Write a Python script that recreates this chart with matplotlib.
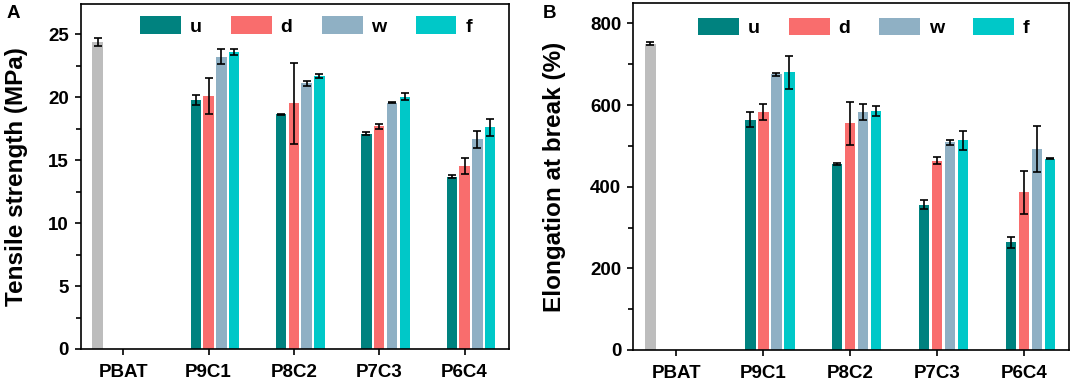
"""
Tensile strength and elongation at break for PBAT blends
"""

import numpy as np
import matplotlib.pyplot as plt
from matplotlib.ticker import MultipleLocator

plt.rcParams['font.family'] = ['Liberation Sans', 'DejaVu Sans']
plt.rcParams['font.weight'] = 'bold'

# categories and series
samples = ['PBAT', 'P9C1', 'P8C2', 'P7C3', 'P6C4']
series = ['u', 'd', 'w', 'f']
colors = ['#00827f', '#f96d6d', '#8fb0c4', '#00c8c8']
pbat_color = '#bdbdbd'

# tensile strength (MPa) for P9C1..P6C4
ts_pbat = 24.4
ts_pbat_err = 0.3
ts_u = [19.75, 18.65, 17.1, 13.7]
ts_d = [20.1, 19.5, 17.7, 14.55]
ts_w = [23.2, 21.1, 19.55, 16.65]
ts_f = [23.6, 21.7, 20.05, 17.6]
ts_u_err = [0.4, 0.05, 0.1, 0.1]
ts_d_err = [1.4, 3.2, 0.2, 0.65]
ts_w_err = [0.6, 0.2, 0.05, 0.65]
ts_f_err = [0.25, 0.15, 0.3, 0.7]

# elongation at break (%)
eb_pbat = 750
eb_pbat_err = 4
eb_u = [564, 455, 356, 264]
eb_d = [583, 555, 464, 386]
eb_w = [675, 583, 509, 493]
eb_f = [680, 585, 514, 469]
eb_u_err = [18, 3, 11, 13]
eb_d_err = [20, 52, 8, 53]
eb_w_err = [3, 20, 6, 56]
eb_f_err = [40, 13, 23, 2]


def draw_panel(ax, pbat, pbat_err, vals, errs, ylabel, ylim, major, minor,
               label_x, leg_x, leg_y):
    slot = 0.15
    width = 0.122
    x = np.arange(len(samples))
    err_kw = dict(ecolor='black', elinewidth=1.2, capsize=2.8, capthick=1.2)

    ax.bar(x[0] - 2 * slot, pbat, width, yerr=pbat_err, color=pbat_color,
           error_kw=err_kw, zorder=2)
    for i, (name, v, e) in enumerate(zip(series, vals, errs)):
        ax.bar(x[1:] + (i - 1) * slot, v, width, yerr=e, color=colors[i],
               label=name, error_kw=err_kw, zorder=2)

    ax.set_xlim(-0.5, 4.52)
    ax.set_ylim(*ylim)
    ax.set_xticks(x)
    ax.set_xticklabels(samples, fontsize=13.5, fontweight='bold')
    ax.yaxis.set_major_locator(MultipleLocator(major))
    ax.yaxis.set_minor_locator(MultipleLocator(minor))
    ax.tick_params(axis='both', direction='out', length=4.5, width=1.2,
                   labelsize=13.5, pad=4)
    ax.tick_params(axis='x', pad=6)
    ax.tick_params(axis='y', which='minor', direction='out', length=3.5, width=1.2)
    for lab in ax.get_yticklabels():
        lab.set_fontweight('bold')
    for sp in ax.spines.values():
        sp.set_linewidth(1.2)
    ax.set_ylabel(ylabel, fontsize=17.5, fontweight='bold')
    ax.yaxis.set_label_coords(label_x, 0.5)

    ax.legend(loc='upper left', bbox_to_anchor=(leg_x, leg_y), ncol=4,
              frameon=False, borderpad=0, handlelength=2.1, handleheight=1.0,
              handletextpad=0.45, columnspacing=1.5,
              prop={'size': 14, 'weight': 'bold'})


fig = plt.figure(figsize=(10.72, 3.82), dpi=100)
ax1 = fig.add_axes([0.0751, 0.0864, 0.3997, 0.9031])
ax2 = fig.add_axes([0.5905, 0.0838, 0.4067, 0.9084])

draw_panel(ax1, ts_pbat, ts_pbat_err, [ts_u, ts_d, ts_w, ts_f],
           [ts_u_err, ts_d_err, ts_w_err, ts_f_err],
           'Tensile strength (MPa)', (0, 27.4), 5, 2.5, -0.122, 0.117, 0.992)
draw_panel(ax2, eb_pbat, eb_pbat_err, [eb_u, eb_d, eb_w, eb_f],
           [eb_u_err, eb_d_err, eb_w_err, eb_f_err],
           'Elongation at break (%)', (0, 850), 200, 100, -0.154, 0.127, 0.985)

fig.text(0.0065, 0.952, 'A', fontsize=13.5, fontweight='bold')
fig.text(0.5065, 0.952, 'B', fontsize=13.5, fontweight='bold')

fig.savefig('out.png', dpi=100)
